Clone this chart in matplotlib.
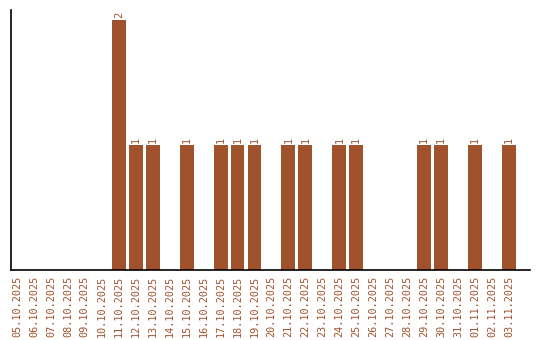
import matplotlib
matplotlib.use("Agg")
from matplotlib import pyplot as plt

dates = ["05.10.2025", "06.10.2025", "07.10.2025", "08.10.2025", "09.10.2025",
         "10.10.2025", "11.10.2025", "12.10.2025", "13.10.2025", "14.10.2025",
         "15.10.2025", "16.10.2025", "17.10.2025", "18.10.2025", "19.10.2025",
         "20.10.2025", "21.10.2025", "22.10.2025", "23.10.2025", "24.10.2025",
         "25.10.2025", "26.10.2025", "27.10.2025", "28.10.2025", "29.10.2025",
         "30.10.2025", "31.10.2025", "01.11.2025", "02.11.2025", "03.11.2025"]
counts = [0, 0, 0, 0, 0, 0, 2, 1, 1, 0,
          1, 0, 1, 1, 1, 0, 1, 1, 0, 1,
          1, 0, 0, 0, 1, 1, 0, 1, 0, 1]

color = "#A0522D"
plt.rcParams['font.family'] = ['DejaVu Sans Mono']

fig = plt.figure(figsize=(5.4, 3.4), dpi=100)
ax = fig.add_axes([11/540, 70/340, 519/540, 260/340])

x = list(range(len(dates)))
ax.bar(x, counts, width=0.82, color=color)
for i, v in zip(x, counts):
    if v > 0:
        ax.text(i, v + 0.02, str(v), rotation=90, ha="center", va="bottom",
                fontsize=7.3, color=color)

ax.set_xlim(-0.354, len(dates) - 1 + 1.24)
ax.set_ylim(0, 2.08)
ax.set_xticks(x)
ax.set_xticklabels(dates, rotation=90, fontsize=7.3, color=color)
ax.tick_params(axis="x", length=0, pad=4)
ax.set_yticks([])
ax.spines["top"].set_visible(False)
ax.spines["right"].set_visible(False)
ax.spines["left"].set_linewidth(1.2)
ax.spines["bottom"].set_linewidth(1.2)

fig.savefig("out.png", dpi=100)
